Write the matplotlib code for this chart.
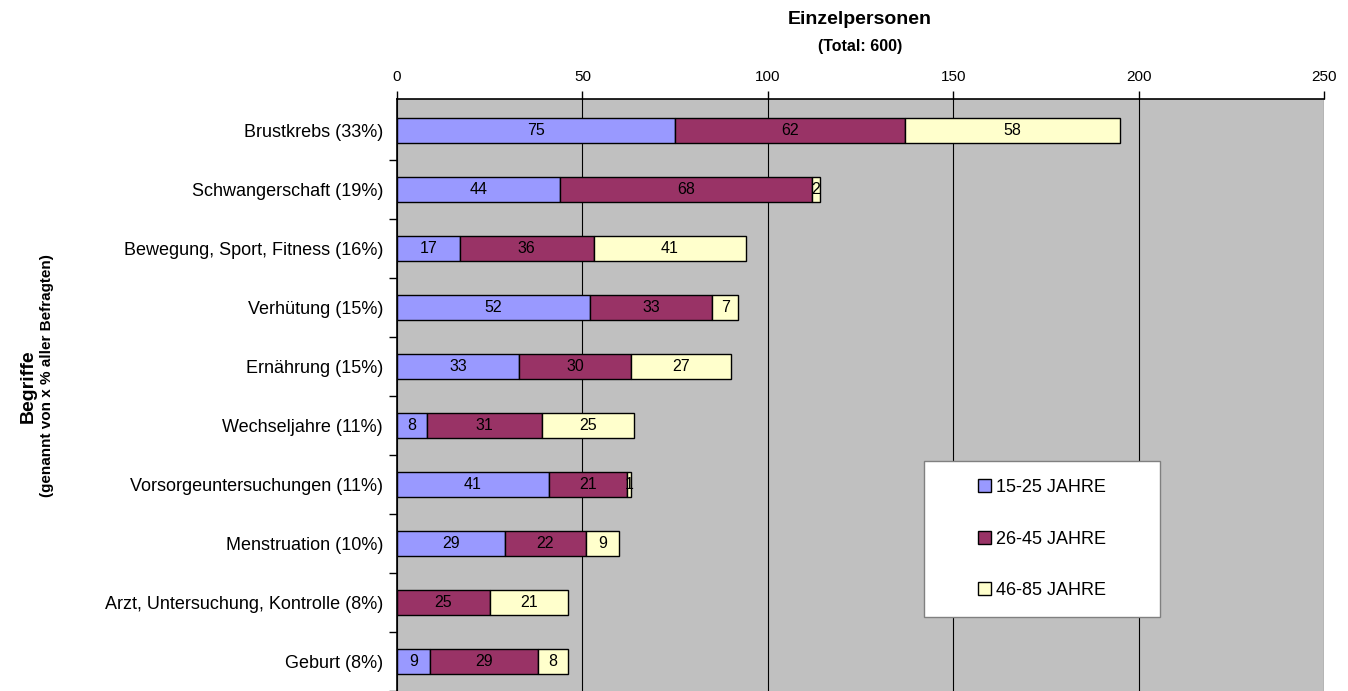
import matplotlib
matplotlib.use('Agg')
from matplotlib import pyplot as plt
from matplotlib.patches import Rectangle
import numpy

plt.rcParams['font.family'] = ['Liberation Sans', 'DejaVu Sans']

begriffe = ['Brustkrebs (33%)', 'Schwangerschaft (19%)', 'Bewegung, Sport, Fitness (16%)',
            'Verhütung (15%)', 'Ernährung (15%)', 'Wechseljahre (11%)',
            'Vorsorgeuntersuchungen (11%)', 'Menstruation (10%)',
            'Arzt, Untersuchung, Kontrolle (8%)', 'Geburt (8%)']
jahre_15_25 = [75, 44, 17, 52, 33, 8, 41, 29, 0, 9]
jahre_26_45 = [62, 68, 36, 33, 30, 31, 21, 22, 25, 29]
jahre_46_85 = [58, 2, 41, 7, 27, 25, 1, 9, 21, 8]
gruppen = ['15-25 JAHRE', '26-45 JAHRE', '46-85 JAHRE']
farben = ['#9999FF', '#993366', '#FFFFCC']

W, H = 1348., 691.
fig = plt.figure(figsize=(13.48, 6.91), dpi=100)
ax = fig.add_axes([397/W, 0.0, (1324-397)/W, 1-99/H])
ax.set_facecolor('#C0C0C0')

y = numpy.arange(len(begriffe))
left = numpy.zeros(len(begriffe))
for werte, farbe, name in zip([jahre_15_25, jahre_26_45, jahre_46_85], farben, gruppen):
  werte = numpy.array(werte)
  ax.barh(y, werte, left=left, height=0.42, color=farbe, edgecolor='black',
          linewidth=1, label=name, zorder=3)
  for yi, l, w in zip(y, left, werte):
    if w > 0:
      ax.text(l + w/2.0, yi, str(w), ha='center', va='center', fontsize=11.5, zorder=4)
  left = left + werte

# Balkenabstand ~59.67 px, erste Kategorie 32 px unter Achsenoberkante
ax.set_xlim(0, 250)
ax.set_ylim(9 + 23/59.67, -32/59.67)
ax.set_xticks([0, 50, 100, 150, 200, 250])
ax.xaxis.tick_top()
ax.tick_params(axis='x', labelsize=11, length=6, direction='out', pad=5, width=1)
ax.grid(axis='x', color='black', linewidth=0.8, zorder=1)
ax.set_yticks(y)
ax.set_yticklabels(begriffe, fontsize=13)
ax.set_yticks(numpy.arange(len(begriffe)) + 0.5, minor=True)
ax.tick_params(axis='y', which='major', length=0, pad=10)
ax.tick_params(axis='y', which='minor', length=6, width=1)
for s in ['right', 'bottom']:
  ax.spines[s].set_visible(False)
ax.spines['top'].set_linewidth(1.2)
ax.spines['left'].set_linewidth(1.2)

fig.text(860/W, 1-20/H, 'Einzelpersonen', ha='center', va='center',
         fontsize=14, fontweight='bold')
fig.text(860/W, 1-46/H, '(Total: 600)', ha='center', va='center',
         fontsize=11.5, fontweight='bold')
fig.text(28/W, 1-386/H, 'Begriffe', ha='center', va='center', rotation=90,
         fontsize=14, fontweight='bold')
fig.text(47/W, 1-376/H, '(genannt von x % aller Befragten)', ha='center',
         va='center', rotation=90, fontsize=11, fontweight='bold')

# Legendenkasten
box = Rectangle((924/W, 1-617/H), (1160-924)/W, (617-461)/H, transform=fig.transFigure,
                facecolor='white', edgecolor='#808080', linewidth=1, zorder=5,
                clip_on=False)
ax.add_patch(box)
leg = ax.legend(loc='center', bbox_to_anchor=(1042/W, 1-539/H),
                bbox_transform=fig.transFigure,
                fontsize=13, handlelength=0.75, handleheight=0.75, handletextpad=0.3,
                labelspacing=1.92, frameon=False, borderaxespad=0)
leg.set_zorder(6)

fig.savefig('out.png', dpi=100)
